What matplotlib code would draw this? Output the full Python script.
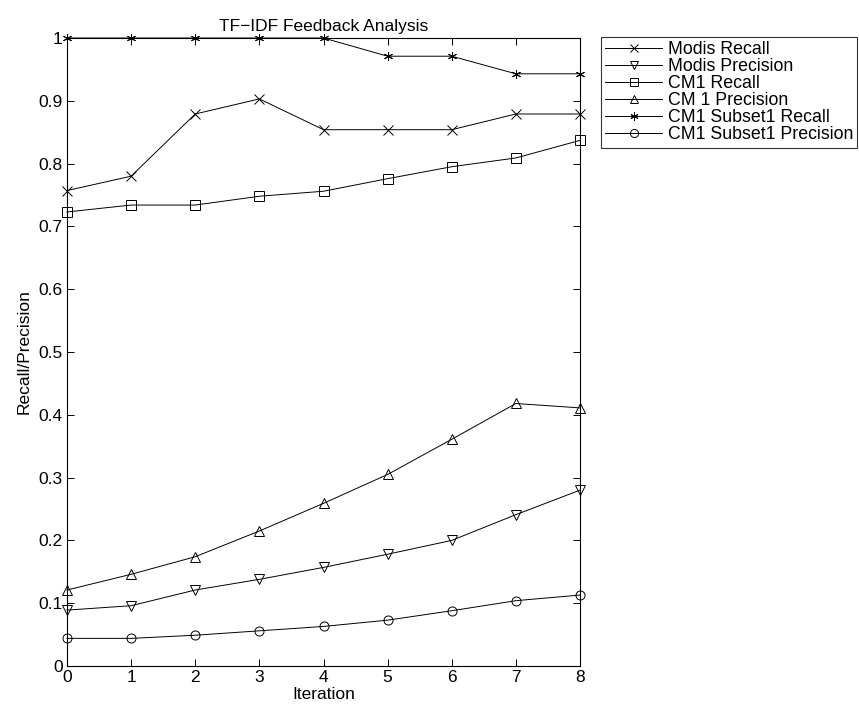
import numpy as np
import matplotlib.pyplot as plt

plt.rcParams['font.family'] = ['Liberation Sans', 'DejaVu Sans']

iterations = [0, 1, 2, 3, 4, 5, 6, 7, 8]
modis_recall = [0.757, 0.780, 0.879, 0.903, 0.854, 0.854, 0.854, 0.879, 0.879]
modis_precision = [0.089, 0.096, 0.121, 0.138, 0.157, 0.178, 0.200, 0.241, 0.280]
cm1_recall = [0.723, 0.734, 0.734, 0.748, 0.756, 0.776, 0.795, 0.809, 0.837]
cm1_precision = [0.121, 0.146, 0.174, 0.215, 0.259, 0.305, 0.361, 0.418, 0.411]
subset_recall = [1.0, 1.0, 1.0, 1.0, 1.0, 0.971, 0.971, 0.943, 0.943]
subset_precision = [0.044, 0.044, 0.049, 0.056, 0.063, 0.073, 0.088, 0.104, 0.113]

series = [
    (modis_recall, 'x', 'Modis Recall'),
    (modis_precision, 'v', 'Modis Precision'),
    (cm1_recall, 's', 'CM1 Recall'),
    (cm1_precision, '^', 'CM 1 Precision'),
    (subset_recall, (6, 2, 0), 'CM1 Subset1 Recall'),
    (subset_precision, 'o', 'CM1 Subset1 Precision'),
]

fs = 12.5

fig = plt.figure(figsize=(8.59, 7.13), dpi=100)
ax = fig.add_axes([67/859, 1-666/713, (580-67)/859, (666-38)/713])

for vals, mk, lab in series:
    ax.plot(iterations, vals, color='black', linewidth=0.7, marker=mk,
            markersize=6.5, markerfacecolor='none', markeredgecolor='black',
            markeredgewidth=0.7, label=lab, clip_on=False)

ax.set_xlim(0, 8)
ax.set_ylim(0, 1)
ax.set_xticks(iterations)
ax.set_yticks(np.arange(0, 1.01, 0.1))
ax.set_yticklabels(['0', '0.1', '0.2', '0.3', '0.4', '0.5', '0.6', '0.7', '0.8', '0.9', '1'])
ax.tick_params(direction='in', top=True, right=True, length=5, labelsize=fs,
               width=0.7, pad=3)
for s in ax.spines.values():
    s.set_linewidth(0.8)
ax.set_xlabel('Iteration', fontsize=fs, labelpad=1)
ax.set_ylabel('Recall/Precision', fontsize=fs, labelpad=5)
ax.set_title('TF\u2212IDF Feedback Analysis', fontsize=fs, pad=5)

leg = fig.legend(loc='upper left', bbox_to_anchor=(601/859, 1-37/713),
                 fontsize=12.8, frameon=True, fancybox=False, edgecolor='black',
                 handlelength=3.2, borderpad=0.25, labelspacing=0.0,
                 handletextpad=0.3, markerscale=0.9, borderaxespad=0)
leg.get_frame().set_linewidth(0.8)

fig.savefig('out.png', dpi=100)
